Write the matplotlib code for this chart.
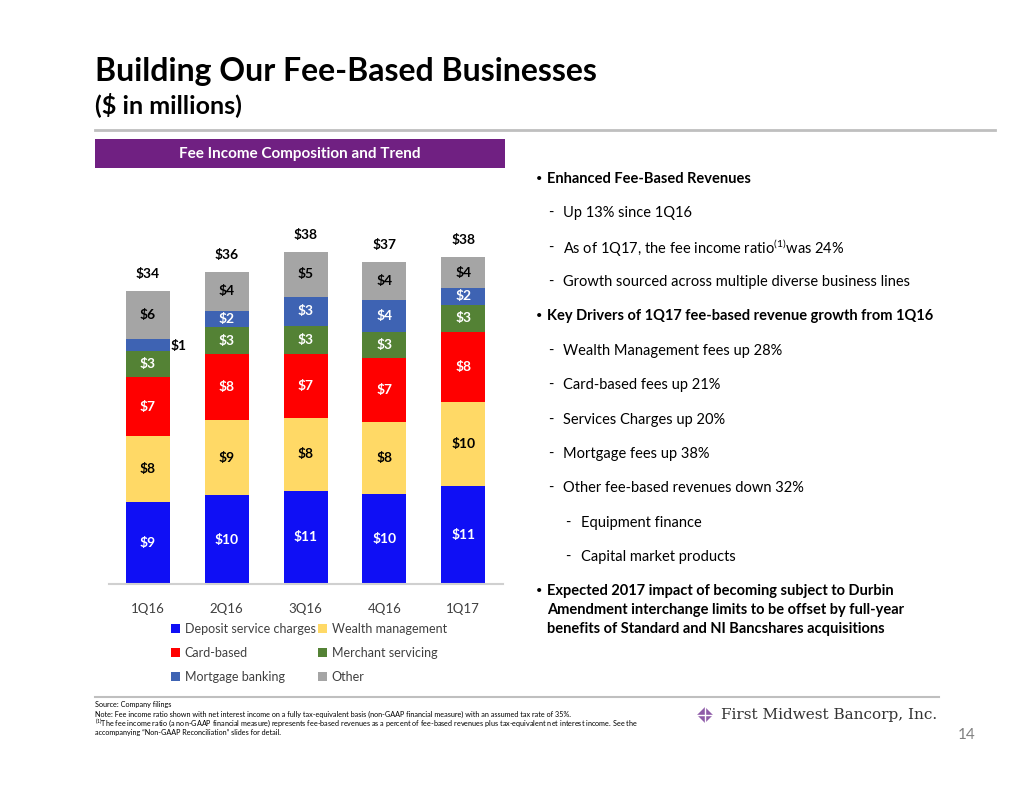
import matplotlib
matplotlib.use("Agg")
import matplotlib.pyplot as plt
import numpy as np
from matplotlib.patches import Rectangle, Polygon

plt.rcParams['font.family'] = ['Lato', 'DejaVu Sans']
plt.rcParams['mathtext.fontset'] = 'custom'
plt.rcParams['mathtext.rm'] = 'Lato'

# data ($ in millions)
quarters = ["1Q16", "2Q16", "3Q16", "4Q16", "1Q17"]
deposit = [9.4, 10.2, 10.7, 10.3, 11.3]
wealth = [7.6, 8.6, 8.4, 8.3, 9.6]
card = [6.8, 7.6, 7.3, 7.4, 8.1]
merchant = [3.0, 3.1, 3.3, 3.0, 3.1]
mortgage = [1.4, 1.9, 3.3, 3.6, 1.9]
other = [5.5, 4.5, 5.2, 4.4, 3.6]

series_names = ["Deposit service charges", "Wealth management", "Card-based",
                "Merchant servicing", "Mortgage banking", "Other"]
series_vals = [deposit, wealth, card, merchant, mortgage, other]
colors = ["#0F0FF5", "#FFD966", "#FF0000", "#548235", "#3E63B3", "#A5A5A5"]
label_colors = ["white", "black", "white", "white", "white", "black"]

W, H = 1034, 799
fig = plt.figure(figsize=(W / 100, H / 100), dpi=100)


def fx(x):
    return x / W


def fy(y):
    return 1 - y / H


# header
fig.text(fx(95), fy(72), "Building Our Fee-Based Businesses", fontsize=23,
         fontweight='bold', color='black', va='center')
fig.text(fx(95), fy(105), "($ in millions)", fontsize=18, fontweight='bold',
         color='black', va='center')
fig.add_artist(plt.Line2D([fx(95), fx(995)], [fy(130), fy(130)], color='#BFBFBF', lw=2))

# banner
fig.add_artist(Rectangle((fx(95), fy(168)), fx(505) - fx(95), fy(139) - fy(168),
                         facecolor='#702082', edgecolor='none', transform=fig.transFigure))
fig.text(fx(300), fy(154), "Fee Income Composition and Trend", fontsize=11,
         fontweight='bold', color='white', ha='center', va='center')

# chart
scale = 8.7
ymax = 42
ax = fig.add_axes([fx(108.6), fy(584), fx(394), ymax * scale / H])
x = np.arange(len(quarters))
bottom = np.zeros(len(quarters))
handles = []
for name, vals, c, lc in zip(series_names, series_vals, colors, label_colors):
    vals = np.array(vals)
    b = ax.bar(x, vals, 0.56, bottom=bottom, color=c, label=name)
    handles.append(b)
    for i in range(len(x)):
        txt = "$%.0f" % vals[i]
        if name == "Mortgage banking" and vals[i] < 1.5:
            ax.text(x[i] + 0.29, bottom[i] + vals[i] / 2 - 0.2, txt, ha='left', va='center',
                    fontsize=10, fontweight='bold', color='black')
        else:
            ax.text(x[i], bottom[i] + vals[i] / 2, txt, ha='center', va='center',
                    fontsize=10, fontweight='bold', color=lc)
    bottom += vals

for i in range(len(x)):
    ax.text(x[i], bottom[i] + 1.95, "$%.0f" % bottom[i], ha='center', va='center',
            fontsize=10, fontweight='bold', color='black')

ax.set_xlim(-0.5, 4.5)
ax.set_ylim(0, ymax)
ax.set_xticks(x)
ax.set_xticklabels(quarters, fontsize=9.5, color='#404040')
ax.tick_params(axis='x', length=0, pad=14)
ax.set_yticks([])
for s in ['top', 'left', 'right']:
    ax.spines[s].set_visible(False)
ax.spines['bottom'].set_color('#D0D0D0')
ax.spines['bottom'].set_linewidth(1.5)

# legend, filled row by row like the slide
order = [0, 2, 4, 1, 3, 5]
leg = fig.legend([handles[k] for k in order], [series_names[k] for k in order],
                 loc='upper left', bbox_to_anchor=(fx(166), fy(618)), ncol=2,
                 frameon=False, fontsize=9, handlelength=0.7, handleheight=0.7,
                 handletextpad=0.4, columnspacing=0.2, labelspacing=0.95,
                 borderaxespad=0)
for t in leg.get_texts():
    t.set_color('#404040')

# right-hand bullets
bx, tx = 536, 547
dash_x, dash_tx = 548, 563
sub_x, sub_tx = 565, 581
fs = 10.5


def bullet(y, s):
    fig.text(fx(bx), fy(y), "•", fontsize=8, va='center', color='black')
    fig.text(fx(tx), fy(y), s, fontsize=fs, fontweight='bold', va='center', color='black')


def dash(y, s, x0=dash_x, x1=dash_tx):
    fig.text(fx(x0), fy(y), "-", fontsize=fs, va='center', color='black')
    fig.text(fx(x1), fy(y), s, fontsize=fs, va='center', color='black')


bullet(179, "Enhanced Fee-Based Revenues")
dash(213, "Up 13% since 1Q16")
dash(248, r"As of 1Q17, the fee income ratio$^{\mathrm{(1)}}$was 24%")
dash(282, "Growth sourced across multiple diverse business lines")
bullet(316, "Key Drivers of 1Q17 fee-based revenue growth from 1Q16")
dash(351, "Wealth Management fees up 28%")
dash(385, "Card-based fees up 21%")
dash(420, "Services Charges up 20%")
dash(454, "Mortgage fees up 38%")
dash(488, "Other fee-based revenues down 32%")
dash(523, "Equipment finance", sub_x, sub_tx)
dash(557, "Capital market products", sub_x, sub_tx)
bullet(591, "Expected 2017 impact of becoming subject to Durbin")
fig.text(fx(tx), fy(610), "Amendment interchange limits to be offset by full-year",
         fontsize=fs, fontweight='bold', va='center')
fig.text(fx(tx), fy(629), "benefits of Standard and NI Bancshares acquisitions",
         fontsize=fs, fontweight='bold', va='center')

# footer
fig.add_artist(plt.Line2D([fx(95), fx(939)], [fy(697), fy(697)], color='#BFBFBF', lw=1.5))
foot = ["Source: Company filings",
        "Note: Fee income ratio shown with net interest income on a fully tax-equivalent basis (non-GAAP financial measure) with an assumed tax rate of 35%.",
        r"$^{\mathrm{(1)}}$The fee income ratio (a non-GAAP financial measure) represents fee-based revenues as a percent of fee-based revenues plus tax-equivalent net interest income. See the",
        "accompanying \u201cNon-GAAP Reconciliation\u201d slides for detail."]
for k, line in enumerate(foot):
    fig.text(fx(95), fy(705 + 9 * k), line, fontsize=5.2, va='center', color='black')

# logo
cx, cy, r = 705, 715, 8
fig.add_artist(Polygon([(fx(cx), fy(cy - r)), (fx(cx + r), fy(cy)), (fx(cx), fy(cy + r)),
                        (fx(cx - r), fy(cy))], closed=True, facecolor='#8E5BA8',
                       edgecolor='none', transform=fig.transFigure))
fig.add_artist(plt.Line2D([fx(cx - r), fx(cx + r)], [fy(cy), fy(cy)], color='white', lw=1))
fig.add_artist(plt.Line2D([fx(cx), fx(cx)], [fy(cy - r), fy(cy + r)], color='white', lw=1))
fig.text(fx(721), fy(715), "First Midwest Bancorp, Inc.", fontsize=11,
         family='DejaVu Serif', color='#333333', va='center')
fig.text(fx(976), fy(735), "14", fontsize=11, color='#808080', va='center', ha='right')

fig.savefig("out.png", dpi=100)
